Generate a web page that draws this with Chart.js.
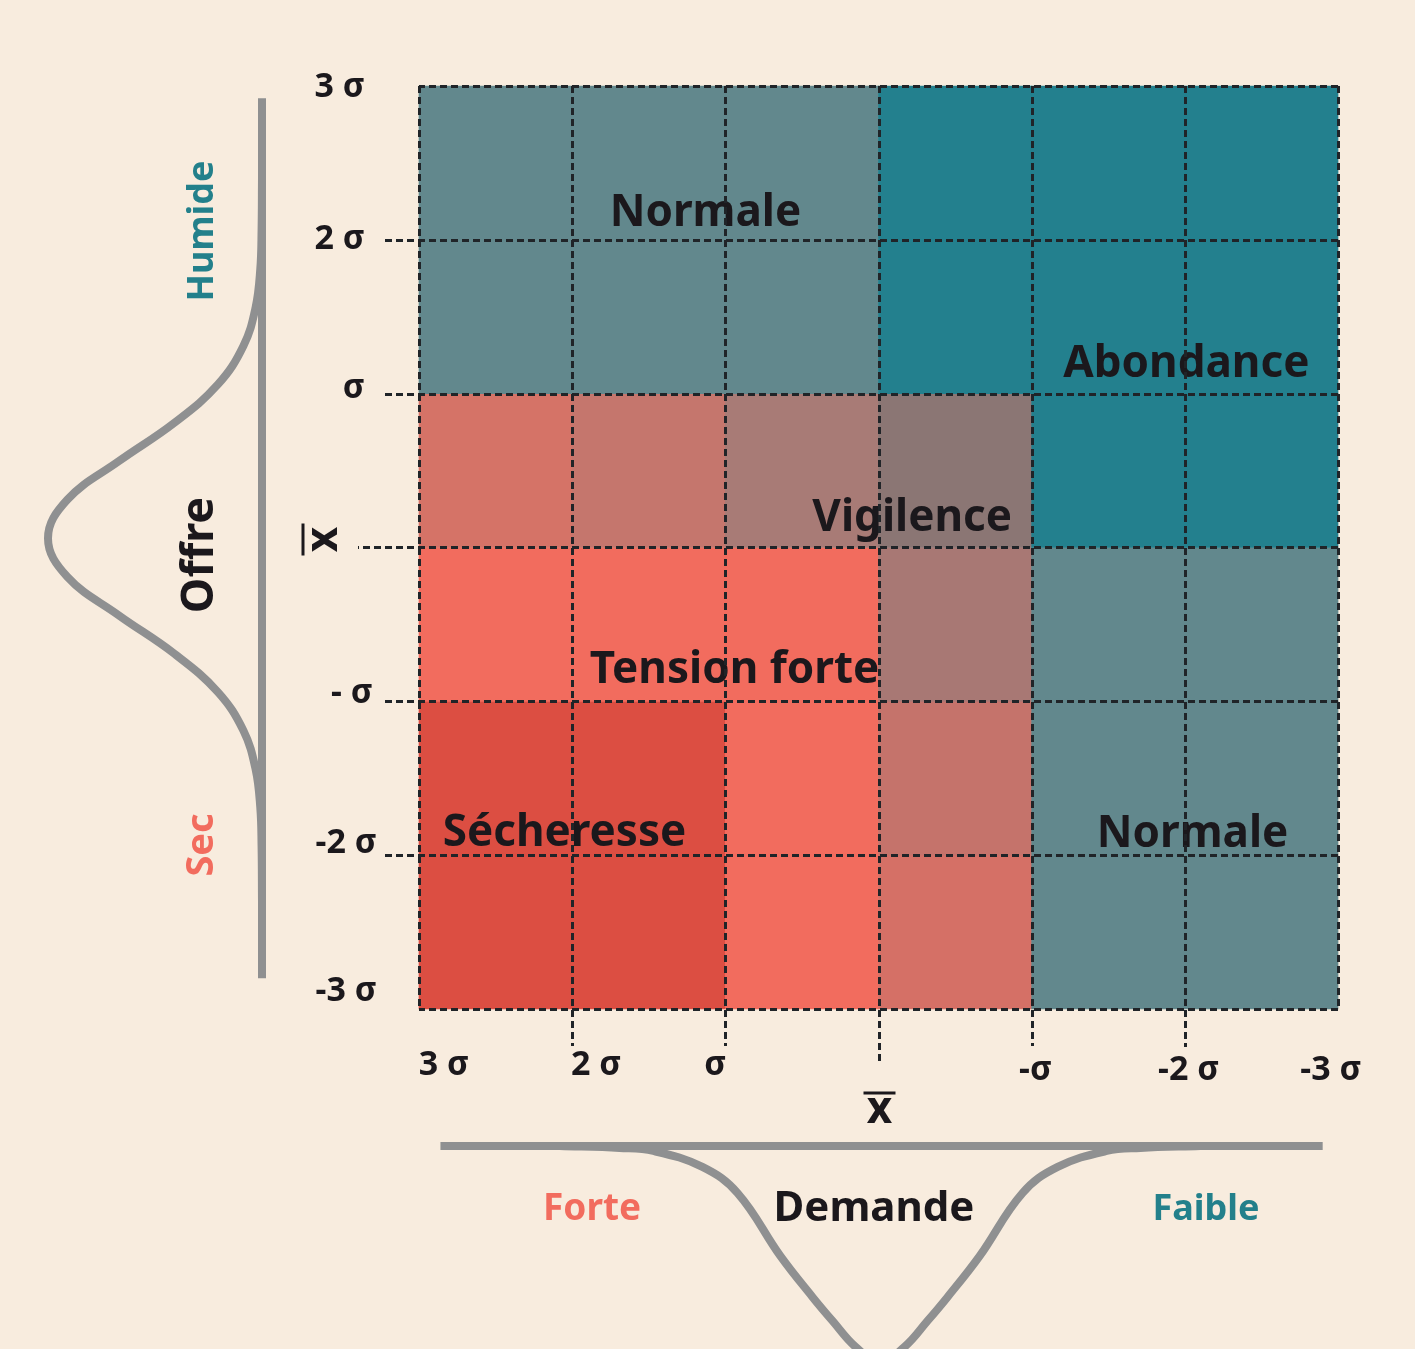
<!DOCTYPE html>
<html>
<head>
<meta charset="utf-8">
<script src="https://cdn.jsdelivr.net/npm/chart.js@4.4.1/dist/chart.umd.min.js"></script>
<style>
  html, body { margin: 0; padding: 0; background: #f8ecde; }
  #wrap { width: 1415px; height: 1349px; }
</style>
</head>
<body>
<div id="wrap"><canvas id="grid" width="1415" height="1349"></canvas></div>
<script>
// Grid ticks (in σ units), left to right for demand, top to bottom for offer
const demandTicks = [3, 2, 1, 0, -1, -2, -3];
const demandTickLabels = ['3 σ', '2 σ', 'σ', 'x', '-σ', '-2 σ', '-3 σ'];
const offerTicks = [3, 2, 1, 0, -1, -2, -3];
const offerTickLabels = ['3 σ', '2 σ', 'σ', 'x', '- σ', '-2 σ', '-3 σ'];

// Cells: column centers (demand) and row bands (offer)
const demandCenters = [2.5, 1.5, 0.5, -0.5, -1.5, -2.5];
const offerBands = [[2, 3], [1, 2], [0, 1], [-1, 0], [-2, -1], [-3, -2]];

// Cell colours, rows top to bottom, columns left to right
const cellColors = [
  ['#62888d', '#62888d', '#62888d', '#23808e', '#23808e', '#23808e'],
  ['#62888d', '#62888d', '#62888d', '#23808e', '#23808e', '#23808e'],
  ['#d57367', '#c5766d', '#a87b76', '#8b7674', '#23808e', '#23808e'],
  ['#f26c5e', '#f26c5e', '#f26c5e', '#a87874', '#62888d', '#62888d'],
  ['#dc4e42', '#dc4e42', '#f26c5e', '#c5736b', '#62888d', '#62888d'],
  ['#dc4e42', '#dc4e42', '#f26c5e', '#d57066', '#62888d', '#62888d'],
];

const zoneNames = ['Normale', 'Abondance', 'Vigilence', 'Tension forte', 'Sécheresse', 'Normale'];

// Offer distribution (left): offer level in σ and relative density
const offerCurveLevel = [2.40, 2.06, 1.81, 1.56, 1.31, 1.06, 0.81, 0.56, 0.31, 0.06,
  -0.19, -0.44, -0.69, -0.94, -1.19, -1.44, -1.69, -1.94, -2.30];
const offerCurveDensity = [0, 0.002, 0.008, 0.03, 0.087, 0.206, 0.41, 0.67, 0.91, 1.0,
  0.91, 0.67, 0.41, 0.206, 0.087, 0.03, 0.008, 0.002, 0];
const offerAxisLine = [2.92, -2.80];

// Demand distribution (bottom): demand level in σ and relative density
const demandCurveLevel = [2.08, 1.69, 1.47, 1.15, 0.92, 0.64, 0.43, 0.30, 0.15, -0.01,
  -0.17, -0.32, -0.45, -0.66, -0.94, -1.17, -1.49, -1.71, -2.10];
const demandCurveDensity = [0, 0.009, 0.023, 0.097, 0.218, 0.51, 0.70, 0.81, 0.93, 1.0,
  0.93, 0.81, 0.70, 0.51, 0.218, 0.097, 0.023, 0.009, 0];
const demandAxisLine = [2.86, -2.90];

const W = 1415;
const H = 1349;
const FONT = '"Noto Sans", "Open Sans", sans-serif';
const INK = '#1b181c';
const TEAL = '#23808b';
const SALMON = '#f26c5e';
const CURVE = '#8f9091';

// min/max of a linear axis so that value v1 lands on pixel p1 and v2 on p2
function fitRange(v1, p1, v2, p2, size) {
  const b = (p2 - p1) / (v2 - v1);
  const a = p1 - b * v1;
  const e1 = -a / b;
  const e2 = (size - a) / b;
  return { min: Math.min(e1, e2), max: Math.max(e1, e2) };
}

const xRange = fitRange(3, 419, -3, 1338, W);
const yRange = fitRange(3, H - 86, -3, H - 1009, H);
const xdRange = fitRange(0, W - 262, 1, W - 48, W);
const ydRange = fitRange(0, 1146, 1, 1362, H);

function drawText(ctx, str, x, y, opt) {
  ctx.save();
  ctx.font = `bold ${opt.size}px ${FONT}`;
  ctx.fillStyle = opt.color || INK;
  ctx.textAlign = opt.align || 'center';
  ctx.textBaseline = 'alphabetic';
  ctx.translate(x, y);
  if (opt.rotate) ctx.rotate(-Math.PI / 2);
  ctx.fillText(str, 0, 0);
  if (opt.bar) {
    ctx.fillRect(-16, -opt.bar - 1.5, 32, 3);
  }
  ctx.restore();
}

const overlay = {
  id: 'overlay',
  afterDatasetsDraw(chart, args, opts) {
    const { ctx } = chart;
    const { x, y } = chart.scales;

    // zone names
    opts.zones.forEach((z, i) => {
      drawText(ctx, zoneNames[i], x.getPixelForValue(z[0]), y.getPixelForValue(z[1]), { size: 44 });
    });

    // dashed grid
    const top = y.getPixelForValue(offerTicks[0]);
    const bottom = y.getPixelForValue(offerTicks[offerTicks.length - 1]);
    const left = x.getPixelForValue(demandTicks[0]);
    const right = x.getPixelForValue(demandTicks[demandTicks.length - 1]);
    ctx.save();
    ctx.strokeStyle = '#202428';
    ctx.lineWidth = 3;
    ctx.setLineDash([7, 4]);
    demandTicks.forEach((v, i) => {
      const px = Math.round(x.getPixelForValue(v)) + 0.5;
      ctx.beginPath();
      ctx.moveTo(px, top);
      ctx.lineTo(px, bottom + opts.xExtend[i]);
      ctx.stroke();
    });
    offerTicks.forEach((v, i) => {
      const py = Math.round(y.getPixelForValue(v)) + 0.5;
      ctx.beginPath();
      ctx.moveTo(right, py);
      ctx.lineTo(left - opts.yExtend[i], py);
      ctx.stroke();
    });
    ctx.restore();

    // demand tick labels
    demandTicks.forEach((v, i) => {
      const px = x.getPixelForValue(v) + opts.xLabelDx[i];
      const py = bottom + opts.xLabelDy[i];
      if (v === 0) {
        drawText(ctx, demandTickLabels[i], px, py, { size: 44, bar: 30 });
      } else {
        drawText(ctx, demandTickLabels[i], px, py, { size: 34 });
      }
    });

    // offer tick labels
    offerTicks.forEach((v, i) => {
      const py = y.getPixelForValue(v) + opts.yLabelDy[i];
      if (v === 0) {
        drawText(ctx, offerTickLabels[i], 337, y.getPixelForValue(v) - 8, { size: 44, rotate: true, bar: 34 });
      } else {
        drawText(ctx, offerTickLabels[i], opts.yLabelRight[i], py, { size: 34, align: 'right' });
      }
    });

    // distribution titles
    opts.titles.forEach((t) => drawText(ctx, t.text, t.x, t.y, t));
  },
};

function buildChart() {
  const cellSets = offerBands.map((band, r) => ({
    type: 'bar',
    label: `row ${r}`,
    data: demandCenters.map((c) => ({ x: c, y: band })),
    backgroundColor: cellColors[r],
    borderWidth: 0,
    grouped: false,
    categoryPercentage: 1,
    barPercentage: 1,
    xAxisID: 'x',
    yAxisID: 'y',
    order: 2,
  }));

  const lineStyle = {
    type: 'line',
    borderColor: CURVE,
    borderWidth: 8,
    pointRadius: 0,
    fill: false,
    order: 1,
  };

  const curveSets = [
    {
      ...lineStyle,
      label: 'offer axis',
      data: offerAxisLine.map((v) => ({ x: 0, y: v })),
      xAxisID: 'xd',
      yAxisID: 'y',
    },
    {
      ...lineStyle,
      label: 'offer curve',
      data: offerCurveLevel.map((v, i) => ({ x: offerCurveDensity[i], y: v })),
      tension: 0.4,
      xAxisID: 'xd',
      yAxisID: 'y',
    },
    {
      ...lineStyle,
      label: 'demand axis',
      data: demandAxisLine.map((v) => ({ x: v, y: 0 })),
      xAxisID: 'x',
      yAxisID: 'yd',
    },
    {
      ...lineStyle,
      label: 'demand curve',
      data: demandCurveLevel.map((v, i) => ({ x: v, y: demandCurveDensity[i] })),
      tension: 0.4,
      xAxisID: 'x',
      yAxisID: 'yd',
    },
  ];

  const ctx = document.getElementById('grid');
  // eslint-disable-next-line no-new
  new Chart(ctx, {
    type: 'bar',
    data: { datasets: [...cellSets, ...curveSets] },
    plugins: [overlay],
    options: {
      responsive: false,
      animation: false,
      devicePixelRatio: 1,
      layout: { padding: 0 },
      elements: { line: { capBezierPoints: false, borderCapStyle: 'butt' } },
      scales: {
        x: {
          type: 'linear', display: false, offset: false, reverse: true, min: xRange.min, max: xRange.max,
          afterBuildTicks: (s) => { s.ticks = demandTicks.map((v) => ({ value: v })); },
        },
        y: {
          type: 'linear', display: false, offset: false, min: yRange.min, max: yRange.max,
          afterBuildTicks: (s) => { s.ticks = offerTicks.map((v) => ({ value: v })); },
        },
        xd: { type: 'linear', display: false, offset: false, reverse: true, min: xdRange.min, max: xdRange.max },
        yd: { type: 'linear', display: false, offset: false, reverse: true, min: ydRange.min, max: ydRange.max },
      },
      plugins: {
        legend: { display: false },
        title: { display: false },
        tooltip: { enabled: false },
        overlay: {
          // [demand σ, offer σ] of each zone name baseline centre
          zones: [[1.13, 2.09], [-2.01, 1.11], [-0.22, 0.107], [0.94, -0.88], [2.05, -1.94], [-2.05, -1.95]],
          xExtend: [0, 37, 37, 52, 37, 38, 0],
          yExtend: [0, 34, 34, 61, 34, 34, 0],
          xLabelDx: [25, 24, -10, 1, 4, 4, -7],
          xLabelDy: [66, 66, 66, 114, 71, 71, 71],
          yLabelRight: [365, 365, 365, 0, 373, 377, 377],
          yLabelDy: [11, 9, 4, 0, 2, -2, -8],
          titles: [
            { text: 'Humide', x: 213, y: 231, size: 36, color: TEAL, rotate: true },
            { text: 'Offre', x: 213, y: 555, size: 45, color: INK, rotate: true },
            { text: 'Sec', x: 213, y: 845, size: 38, color: SALMON, rotate: true },
            { text: 'Forte', x: 592, y: 1220, size: 37, color: SALMON },
            { text: 'Demande', x: 874, y: 1221, size: 42, color: INK },
            { text: 'Faible', x: 1206, y: 1220, size: 36, color: TEAL },
          ],
        },
      },
    },
  });
}

document.fonts.load(`bold 44px ${FONT}`).then(buildChart, buildChart);
</script>
</body>
</html>
